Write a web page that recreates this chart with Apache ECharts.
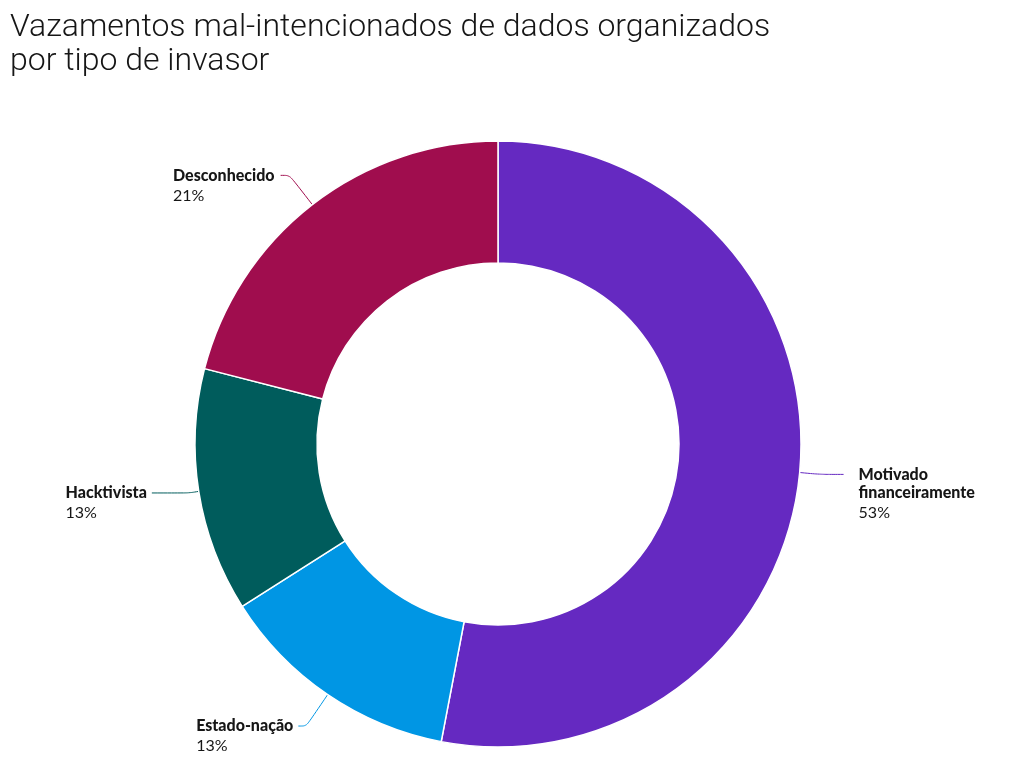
<!DOCTYPE html>
<html>
<head>
<meta charset="utf-8">
<script src="https://cdn.jsdelivr.net/npm/echarts@6/dist/echarts.min.js"></script>
<style>
html,body{margin:0;padding:0;background:#fff;}
#chart{width:1024px;height:782px;}
</style>
</head>
<body>
<div id="chart"></div>
<script>
const titleText = 'Vazamentos mal-intencionados de dados organizados\npor tipo de invasor';
const categories = ['Motivado financeiramente', 'Estado-nação', 'Hacktivista', 'Desconhecido'];
const values = [53, 13, 13, 21];
const colors = ['#6529c1', '#0096e4', '#005c5c', '#a00d4e'];
// label line lengths per slice (styling)
const lineLen = [20, 38, 10, 37];
const lineLen2 = [24, 8, 37, 9];
const labelGap = [15, 5, 5, 6];

const NAME_LH = 18, PCT_LH = 22;

function labelName(n) {
  return n.length > 15 ? n.replace(' ', '\n') : n;
}

const chart = echarts.init(document.getElementById('chart'));
const data = categories.map((c, i) => {
  const nameLines = labelName(c).split('\n').length;
  const totalH = nameLines * NAME_LH + PCT_LH;
  // top padding so the label line meets the first text line
  const padTop = totalH - NAME_LH;
  return {
    name: c,
    value: values[i],
    itemStyle: { color: colors[i] },
    label: { padding: [padTop, 0, 0, 0], distanceToLabelLine: labelGap[i] },
    labelLine: { length: lineLen[i], length2: lineLen2[i], lineStyle: { color: colors[i] } }
  };
});

chart.setOption({
  animation: false,
  title: {
    text: titleText,
    left: 10,
    top: 11,
    padding: 0,
    textStyle: {
      fontFamily: 'Roboto',
      fontWeight: 300,
      fontSize: 32,
      lineHeight: 34,
      color: '#161616'
    }
  },
  series: [{
    type: 'pie',
    center: [498, 444],
    radius: [181, 303],
    startAngle: 90,
    clockwise: true,
    avoidLabelOverlap: false,
    itemStyle: { borderColor: '#ffffff', borderWidth: 1.5 },
    label: {
      show: true,
      formatter: p => '{name|' + labelName(p.name).split('\n').join('}\n{name|') + '}\n{pct|' + p.value + '%}',
      rich: {
        name: { fontFamily: 'Lato', fontWeight: 900, fontSize: 16, lineHeight: NAME_LH, color: '#161616', align: 'left' },
        pct: { fontFamily: 'Lato', fontWeight: 400, fontSize: 16, lineHeight: PCT_LH, color: '#161616', align: 'left' }
      }
    },
    labelLine: { show: true, smooth: 0.3, lineStyle: { width: 1 } },
    data: data
  }]
});
</script>
</body>
</html>
